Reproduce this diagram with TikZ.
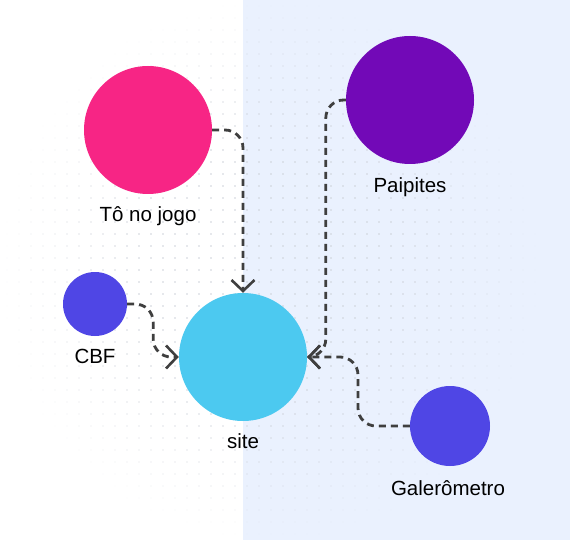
\documentclass[tikz,border=0pt]{standalone}
\usepackage{fontspec}
\setmainfont{Liberation Sans}
\usepackage{tikz}
\usetikzlibrary{arrows.meta,positioning}
\usepackage{xcolor}
\definecolor{bgblue}{HTML}{EAF1FE}
\definecolor{dotgray}{HTML}{CDD1D9}
\definecolor{linkgray}{HTML}{3F3F3F}
\definecolor{pinkc}{HTML}{F72585}
\definecolor{purplec}{HTML}{7209B7}
\definecolor{indigoc}{HTML}{4F46E5}
\definecolor{cyanc}{HTML}{4CC9F0}

\begin{document}
\begin{tikzpicture}[
    x=1pt, y=-1pt,
    bubble/.style={circle, inner sep=0pt, minimum size=#1},
    caption/.style={inner sep=0pt, font=\fontsize{20.5}{24}\selectfont},
    link/.style={draw=linkgray, line width=2.8pt, dash pattern=on 7pt off 5pt,
                 rounded corners=18pt,
                 -{Straight Barb[length=11pt,width=23pt,line width=2.6pt]}}
]
\useasboundingbox (0,0) rectangle (570,540);
\fill[white] (0,0) rectangle (243,540);
\fill[bgblue] (243,0) rectangle (570,540);

% faded dot grid
\foreach \i in {0,...,47} {
  \foreach \j in {0,...,45} {
    \pgfmathsetmacro{\dd}{veclen((\i*12+7-270)/100,(\j*12+6-270)/100)}
    \pgfmathsetmacro{\op}{max(0,min(1,(2.7-\dd)/1.4))}
    \fill[dotgray, opacity=\op] (\i*12+7,\j*12+6) circle (0.95pt);
  }
}

\node[bubble=128pt, fill=pinkc] (jogo) at (148,130) {};
\node[bubble=128pt, fill=purplec] (paipites) at (410,100) {};
\node[bubble=64pt, fill=indigoc] (cbf) at (95,304) {};
\node[bubble=128pt, fill=cyanc] (site) at (243,357) {};
\node[bubble=80pt, fill=indigoc] (galero) at (450,426) {};

\node[caption, below=12pt of jogo] (jogoL) {Tô no jogo};
\node[caption, below=13pt of paipites] (paipitesL) {Paipites};
\node[caption, below=13pt of cbf] (cbfL) {CBF};
\node[caption, below=12pt of site] (siteL) {site};
\node[caption, below=14pt of galero, xshift=-2pt] (galeroL) {Galerômetro};

\coordinate (galbend) at (358,357);

\draw[link] (jogo.east) -| (site.north);
\draw[link] (paipites.west) -- ++(-20,0) |- (site.east);
\draw[link] (galero.west) -| (galbend) -- (site.east);
\draw[link] (cbf.east) -- ++(26,0) |- (site.west);
\end{tikzpicture}
\end{document}
